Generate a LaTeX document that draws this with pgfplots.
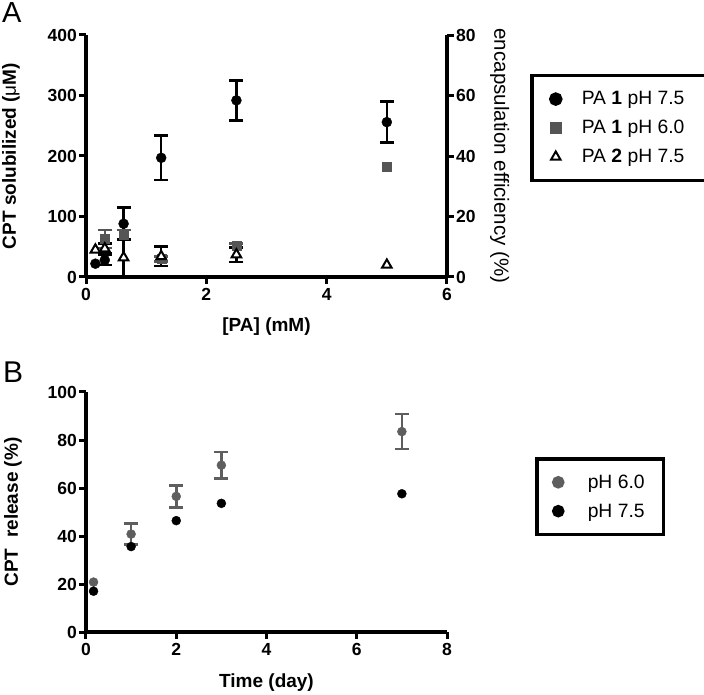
\documentclass[border=0pt]{standalone}
\usepackage{fontspec}
\setmainfont{Liberation Sans}
\usepackage{pgfplots}
\pgfplotsset{compat=1.18}
\definecolor{dgray}{HTML}{555555}
\definecolor{mgray}{HTML}{5E5E5E}
\pgfplotsset{prism/.style={
  scale only axis, clip=false,
  axis line style={line width=3.5pt},
  tick style={line width=3pt, black},
  tick align=outside,
  major tick length=7pt,
  /pgf/number format/assume math mode=true,
  ticklabel style={font=\fontsize{17.5}{17.5}\selectfont\bfseries},
  yticklabel style={inner sep=2pt},
  xticklabel style={inner sep=4pt},
  label style={font=\fontsize{19}{22}\selectfont\bfseries},
  legend cell align=left,
  legend style={draw=black, line width=3.5pt, inner xsep=19pt, inner ysep=14pt,
    font=\fontsize{19.3}{22}\selectfont, row sep=10pt,
    /tikz/every odd column/.append style={column sep=19pt}},
  legend image code/.code={\draw[#1] plot coordinates {(0pt,0pt)};},
},
ebar/.style={error bars/.cd, y dir=both, y explicit, error mark=-,
  error mark options={mark size=7pt, line width=2.5pt, rotate=90, #1},
  error bar style={line width=2.5pt, #1}},
}
\begin{document}
\begin{tikzpicture}
\useasboundingbox (0,0) rectangle (704pt,694pt);
\node[anchor=north west, inner sep=0pt, font=\fontsize{29}{29}\selectfont] at (2pt,692pt) {A};
\node[anchor=north west, inner sep=0pt, font=\fontsize{30}{30}\selectfont] at (3pt,332pt) {B};
% Panel A left axis
\begin{axis}[prism, at={(86pt,417pt)}, anchor=south west, width=361pt, height=242pt,
  axis x line*=bottom, axis y line*=left,
  xmin=0, xmax=6, ymin=0, ymax=400,
  xtick={0,2,4,6}, ytick={0,100,200,300,400},
  xlabel={[PA] (mM)}, ylabel={CPT solubilized ({\mdseries μ}M)},
  xlabel style={at={(axis description cs:0.5,-0.205)}, anchor=center},
  ylabel style={at={(axis description cs:-0.2078,0.5)}, anchor=center},
  legend style={at={(axis description cs:1.23,0.839)}, anchor=north west},
]
\addlegendimage{only marks, mark=*, mark size=5pt, black}
\addlegendentry{PA \textbf{1} pH 7.5}
\addlegendimage{only marks, mark=square*, mark size=4.5pt, dgray}
\addlegendentry{PA \textbf{1} pH 6.0}
\addlegendimage{only marks, mark=triangle*, mark size=5.5pt, black, fill=white, line width=2pt}
\addlegendentry{PA \textbf{2} pH 7.5}
% PA 1 pH 7.5
\addplot[forget plot, only marks, mark=*, mark size=5pt, black, ebar=black] table[x=x, y=y, y error=e] {
x y e
0.3125 28 8
0.625 88 27
1.25 197 37
2.5 292 33
5 256 34
};
\addplot[forget plot, only marks, mark=*, mark size=5pt, black] table[x=x, y=y] {
x y
0.156 22
};
% PA 1 pH 6.0
\addplot[forget plot, only marks, mark=square*, mark size=4.5pt, dgray, ebar=dgray] table[x=x, y=y, y error=e] {
x y e
0.3125 63 15
0.625 70 8
1.25 30 4
2.5 52 3
};
\addplot[forget plot, only marks, mark=square*, mark size=4.5pt, dgray] table[x=x, y=y] {
x y
5 183
};
% PA 2 pH 7.5
\addplot[forget plot, only marks, mark=triangle*, mark size=5.5pt, black, mark options={fill=white, line width=2pt}, ebar=black] table[x=x, y=y, y error=e] {
x y e
0.3125 47 8
0.625 32 30
1.25 34 16
2.5 37 12
};
\addplot[forget plot, only marks, mark=triangle*, mark size=5.5pt, black, mark options={fill=white, line width=2pt}] table[x=x, y=y] {
x y
0.156 45
5 20
};
\end{axis}
% Panel A right axis
\begin{axis}[prism, at={(86pt,417pt)}, anchor=south west, width=361pt, height=242pt,
  axis x line=none, axis y line*=right,
  xmin=0, xmax=6, ymin=0, ymax=80,
  ytick={0,20,40,60,80},
  ylabel={encapsulation efficiency (\%)},
  ylabel style={at={(axis description cs:1.146,0.5)}, anchor=center, rotate=180, font=\fontsize{20.5}{22}\selectfont\mdseries},
]
\addplot[draw=none] coordinates {(0,0)};
\end{axis}
% Panel B
\begin{axis}[prism, at={(86pt,62pt)}, anchor=south west, width=361pt, height=240pt,
  axis x line*=bottom, axis y line*=left,
  xmin=0, xmax=8, ymin=0, ymax=100,
  xtick={0,2,4,6,8}, ytick={0,20,40,60,80,100},
  xlabel={Time (day)}, ylabel={CPT\ \ release (\%)},
  xlabel style={at={(axis description cs:0.5,-0.212)}, anchor=center},
  ylabel style={at={(axis description cs:-0.202,0.5)}, anchor=center},
  legend style={at={(axis description cs:1.2438,0.729)}, anchor=north west, inner xsep=17pt,
    /tikz/every odd column/.append style={column sep=23pt}},
]
\addlegendimage{only marks, mark=*, mark size=4.5pt, mgray}
\addlegendentry{pH 6.0\hspace{7pt}}
\addlegendimage{only marks, mark=*, mark size=4.5pt, black}
\addlegendentry{pH 7.5\hspace{7pt}}
\addplot[forget plot, only marks, mark=*, mark size=4.5pt, mgray, ebar=mgray] table[x=x, y=y, y error=e] {
x y e
1 40.8 4.4
2 56.5 4.6
3 69.5 5.5
7 83.5 7.3
};
\addplot[forget plot, only marks, mark=*, mark size=4.5pt, mgray] table[x=x, y=y] {
x y
0.167 20.8
};
\addplot[forget plot, only marks, mark=*, mark size=4.5pt, black] table[x=x, y=y] {
x y
0.167 17
1 35.6
2 46.4
3 53.6
7 57.6
};
\end{axis}
\end{tikzpicture}
\end{document}
